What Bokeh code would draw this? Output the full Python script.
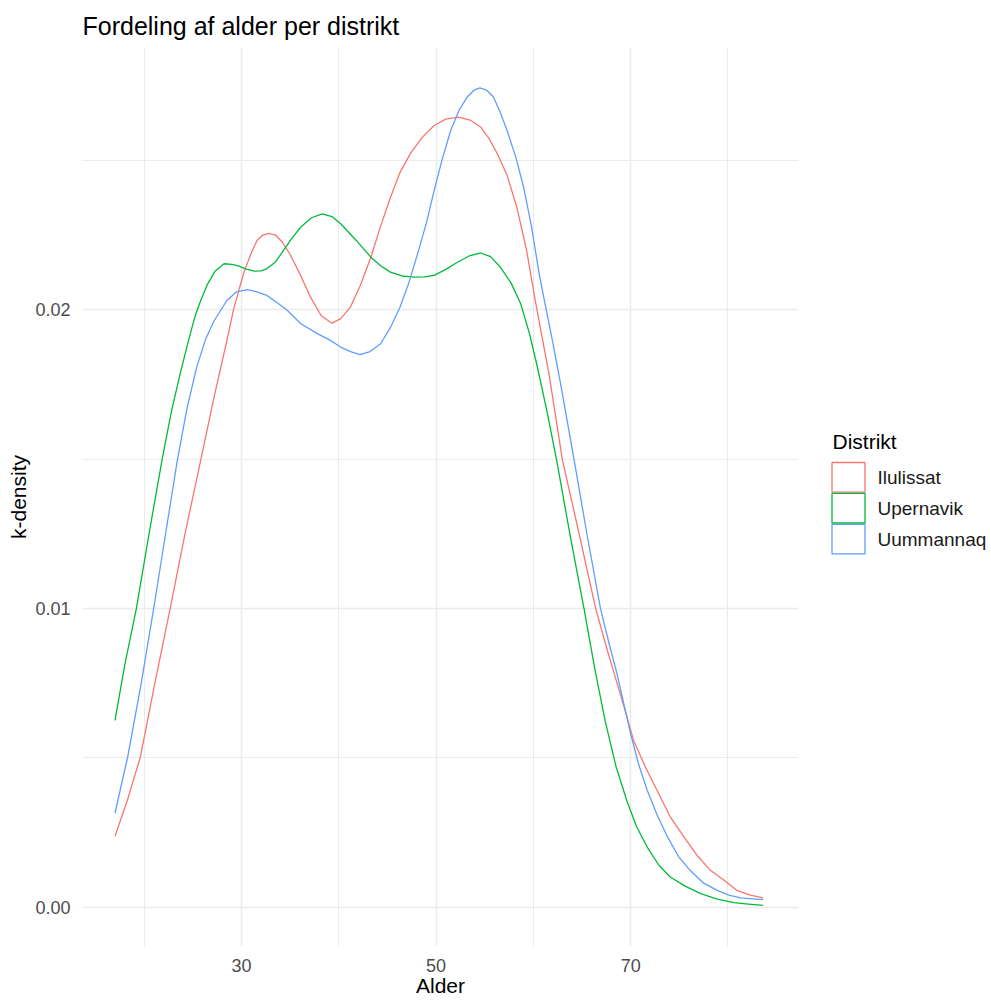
from bokeh.plotting import figure
from bokeh.models import Range1d, FixedTicker, PrintfTickFormatter
from bokeh.layouts import row
from bokeh.embed import file_html
from bokeh.resources import INLINE
from bokeh.core.properties import value

# ---------------- data ----------------
districts = ["Ilulissat", "Upernavik", "Uummannaq"]
colors = ["#F8766D", "#00BA38", "#619CFF"]

ilulissat_age = [17.0, 18.3, 19.6, 21.1, 22.7, 24.2, 25.8, 27.2, 28.5, 29.2, 30.2, 31.0,
                 31.6, 32.2, 32.8, 33.5, 34.2, 35.0, 36.0, 37.1, 38.2, 39.3, 40.2, 41.2,
                 42.2, 43.3, 44.3, 45.3, 46.3, 47.4, 48.6, 49.8, 51.0, 52.3, 53.5, 54.6,
                 55.5, 56.3, 57.3, 58.3, 59.3, 60.2, 61.6, 63.0, 64.7, 66.4, 67.6, 68.6,
                 69.5, 70.3, 71.5, 72.7, 74.1, 75.5, 76.9, 78.2, 79.6, 80.9, 82.3, 83.6]
ilulissat_density = [0.00237, 0.00360, 0.00502, 0.00750, 0.01004, 0.01250, 0.01495, 0.01710,
                     0.01897, 0.02003, 0.02120, 0.02190, 0.02232, 0.02250, 0.02256, 0.02250,
                     0.02226, 0.02185, 0.02120, 0.02042, 0.01980, 0.01955, 0.01970, 0.02009,
                     0.02080, 0.02176, 0.02280, 0.02375, 0.02460, 0.02525, 0.02578, 0.02617,
                     0.02638, 0.02645, 0.02635, 0.02611, 0.02570, 0.02522, 0.02450, 0.02343,
                     0.02200, 0.02030, 0.01786, 0.01495, 0.01250, 0.01000, 0.00860, 0.00750,
                     0.00650, 0.00558, 0.00470, 0.00391, 0.00300, 0.00234, 0.00170, 0.00123,
                     0.00090, 0.00056, 0.00040, 0.00031]

upernavik_age = [17.0, 18.0, 19.2, 20.5, 21.85, 22.8, 23.7, 24.5, 25.2, 25.8, 26.5, 27.3,
                 28.2, 29.0, 29.6, 30.5, 31.3, 32.0, 32.6, 33.5, 34.3, 35.2, 36.1, 37.2,
                 38.3, 39.3, 40.2, 41.8, 43.3, 44.3, 45.3, 46.5, 47.7, 48.8, 49.8, 51.0,
                 52.2, 53.4, 54.6, 55.6, 56.6, 57.7, 58.7, 59.6, 60.4, 61.4, 62.4, 63.8,
                 65.2, 66.3, 67.4, 68.5, 69.6, 70.6, 71.7, 72.9, 74.1, 75.6, 77.2, 78.9,
                 80.6, 82.1, 83.6]
upernavik_density = [0.00625, 0.00810, 0.01000, 0.01250, 0.01500, 0.01660, 0.01786, 0.01890,
                     0.01975, 0.02030, 0.02085, 0.02130, 0.02154, 0.02152, 0.02148, 0.02136,
                     0.02129, 0.02130, 0.02137, 0.02160, 0.02198, 0.02240, 0.02277, 0.02308,
                     0.02321, 0.02312, 0.02288, 0.02232, 0.02176, 0.02147, 0.02126, 0.02113,
                     0.02109, 0.02110, 0.02115, 0.02135, 0.02159, 0.02180, 0.02190, 0.02178,
                     0.02143, 0.02090, 0.02020, 0.01920, 0.01810, 0.01660, 0.01495, 0.01240,
                     0.01000, 0.00800, 0.00620, 0.00470, 0.00357, 0.00270, 0.00201, 0.00140,
                     0.00100, 0.00070, 0.00045, 0.00027, 0.00015, 0.00010, 0.00006]

uummannaq_age = [17.0, 18.3, 19.7, 21.0, 22.2, 23.4, 24.4, 25.4, 26.3, 27.2, 28.5, 29.5,
                 30.6, 31.6, 32.6, 33.6, 34.7, 36.1, 37.8, 39.0, 40.2, 41.2, 42.2, 43.2,
                 44.3, 45.3, 46.3, 47.2, 48.1, 49.0, 49.8, 50.6, 51.5, 52.4, 53.2, 53.9,
                 54.5, 55.2, 55.9, 56.6, 57.3, 58.2, 59.0, 59.8, 60.6, 61.2, 62.0, 62.8,
                 64.2, 65.5, 66.9, 67.8, 68.6, 69.3, 70.0, 70.8, 71.7, 72.7, 73.8, 74.9,
                 76.1, 77.5, 78.9, 80.1, 81.3, 83.6]
uummannaq_density = [0.00315, 0.00502, 0.00750, 0.01004, 0.01250, 0.01495, 0.01670, 0.01808,
                     0.01900, 0.01964, 0.02031, 0.02060, 0.02067, 0.02060, 0.02048, 0.02025,
                     0.01998, 0.01953, 0.01920, 0.01900, 0.01875, 0.01860, 0.01850, 0.01860,
                     0.01886, 0.01940, 0.02009, 0.02090, 0.02187, 0.02290, 0.02399, 0.02500,
                     0.02600, 0.02670, 0.02712, 0.02735, 0.02743, 0.02735, 0.02712, 0.02660,
                     0.02600, 0.02510, 0.02410, 0.02280, 0.02120, 0.02020, 0.01890, 0.01752,
                     0.01495, 0.01250, 0.00999, 0.00880, 0.00781, 0.00680, 0.00580, 0.00480,
                     0.00391, 0.00310, 0.00234, 0.00170, 0.00123, 0.00080, 0.00056, 0.00040,
                     0.00031, 0.00025]

x_major = [30, 50, 70]
x_minor = [20, 40, 60, 80]
y_major = [0.0, 0.01, 0.02]
y_minor = [0.005, 0.015, 0.025]

series = [
    (ilulissat_age, ilulissat_density),
    (upernavik_age, upernavik_density),
    (uummannaq_age, uummannaq_density),
]

FONT = "Liberation Sans"
GRID = "#EBEBEB"
H = 1003
W_MAIN = 808
W_LEG = 991 - W_MAIN

# ---------------- main panel ----------------
p = figure(width=W_MAIN, height=H, output_backend="svg", toolbar_location=None,
           x_range=Range1d(13.66, 87.25), y_range=Range1d(-0.00132, 0.02878),
           min_border_left=82, min_border_right=10, min_border_top=47, min_border_bottom=57,
           title="Fordeling af alder per distrikt",
           x_axis_label="Alder", y_axis_label="k-density")
p.outline_line_color = None
p.background_fill_color = "white"
p.border_fill_color = "white"

p.title.text_font = FONT
p.title.text_font_size = "25px"
p.title.text_font_style = "normal"
p.title.text_color = "black"
p.title.align = "left"
p.title.offset = 0
p.title.standoff = 15

p.xaxis.ticker = FixedTicker(ticks=x_major, minor_ticks=x_minor)
p.yaxis.ticker = FixedTicker(ticks=y_major, minor_ticks=y_minor)
p.yaxis.formatter = PrintfTickFormatter(format="%.2f")

for ax in (p.xaxis[0], p.yaxis[0]):
    ax.axis_line_color = None
    ax.major_tick_line_color = None
    ax.minor_tick_line_color = None
    ax.major_tick_out = 0
    ax.major_tick_in = 0
    ax.minor_tick_out = 0
    ax.minor_tick_in = 0
    ax.major_label_text_font = FONT
    ax.major_label_text_font_size = "18px"
    ax.major_label_text_color = "#4D4D4D"
    ax.axis_label_text_font = FONT
    ax.axis_label_text_font_size = "21px"
    ax.axis_label_text_font_style = "normal"
    ax.axis_label_text_color = "black"

p.xaxis.major_label_standoff = 12
p.xaxis.axis_label_standoff = -1
p.yaxis.major_label_standoff = 12
p.yaxis.axis_label_standoff = 2

for g in (p.xgrid[0], p.ygrid[0]):
    g.grid_line_color = GRID
    g.grid_line_width = 1.5
    g.minor_grid_line_color = GRID
    g.minor_grid_line_width = 1.0

for (xs, ys), col in zip(series, colors):
    p.line(xs, ys, line_color=col, line_width=1.3, line_join="round")

# ---------------- legend panel ----------------
lg = figure(width=W_LEG, height=H, output_backend="svg", toolbar_location=None,
            x_range=Range1d(0, W_LEG), y_range=Range1d(H, 0),
            x_axis_location=None, y_axis_location=None,
            min_border_left=0, min_border_right=0, min_border_top=0, min_border_bottom=0)
lg.outline_line_color = None
lg.xgrid.visible = False
lg.ygrid.visible = False
lg.background_fill_color = "white"
lg.border_fill_color = "white"

key_y = [479.5, 514.0, 548.5]
lg.rect(x=[40, 40, 40], y=key_y, width=33, height=33,
        fill_color="white", line_color=colors, line_width=1.3)
lg.text(x=[69, 69, 69], y=key_y, text=districts, text_font=value(FONT),
        text_font_size="19px", text_baseline="middle", text_align="left",
        text_color="#1A1A1A")
lg.text(x=[24], y=[440], text=["Distrikt"], text_font=value(FONT),
        text_font_size="21px", text_baseline="middle", text_align="left",
        text_color="black")

layout = row(p, lg)
open("out.html", "w").write(file_html(layout, INLINE))
